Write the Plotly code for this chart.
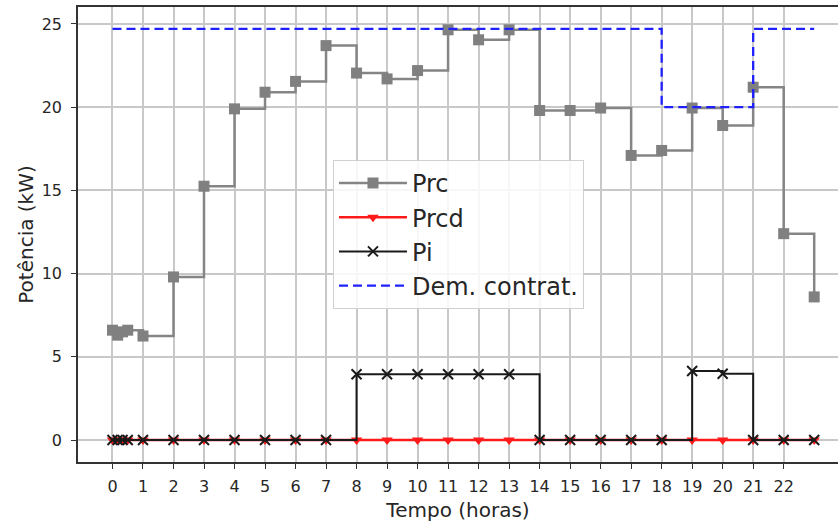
import plotly.graph_objects as go

# Data
hours = [0, 0.17, 0.33, 0.5, 1, 2, 3, 4, 5, 6, 7, 8, 9, 10, 11, 12, 13, 14, 15, 16, 17, 18, 19, 20, 21, 22, 23]
prc = [6.6, 6.3, 6.5, 6.6, 6.25, 9.8, 15.25, 19.9, 20.9, 21.55, 23.7, 22.05, 21.7, 22.2, 24.65, 24.05, 24.65,
       19.8, 19.8, 19.95, 17.1, 17.4, 19.95, 18.9, 21.2, 12.4, 8.6]
prcd = [0] * len(hours)
pi = [0, 0, 0, 0, 0, 0, 0, 0, 0, 0, 0, 3.95, 3.95, 3.95, 3.95, 3.95, 3.95,
      0, 0, 0, 0, 0, 4.15, 3.98, 0, 0, 0]
dem_high = 24.7
dem_low = 20.0
dem = [dem_high if h < 18 or h >= 21 else dem_low for h in hours]
x_ticks = list(range(0, 23))
y_ticks = [0, 5, 10, 15, 20, 25]

FONT = "DejaVu Sans"
TXT = "#262626"

fig = go.Figure()
fig.add_trace(go.Scatter(
    x=hours, y=prc, name="Prc", mode="lines+markers", line_shape="hv", legendgroup="a",
    line=dict(color="#858585", width=2.5),
    marker=dict(symbol="square", size=11, color="#808080")))
fig.add_trace(go.Scatter(
    x=hours, y=prcd, name="Prcd", mode="lines+markers", line_shape="hv", legendgroup="b",
    line=dict(color="#ff1a1a", width=2.5),
    marker=dict(symbol="triangle-down", size=10, color="#ff1a1a")))
fig.add_trace(go.Scatter(
    x=hours, y=pi, name="Pi", mode="lines+markers", line_shape="hv", legendgroup="c",
    line=dict(color="#1a1a1a", width=2),
    marker=dict(symbol="x-thin", size=10, color="#1a1a1a", line=dict(width=2, color="#1a1a1a"))))
fig.add_trace(go.Scatter(
    x=hours, y=dem, name="Dem. contrat.", mode="lines", line_shape="hv", legendgroup="d",
    line=dict(color="#2020ff", width=2.3, dash="9px,5px")))

fig.update_layout(
    width=838, height=525,
    margin=dict(l=78, r=0, t=7, b=63),
    paper_bgcolor="white", plot_bgcolor="white",
    font=dict(family=FONT, color=TXT, size=16),
    legend=dict(
        x=0.3355, y=0.664, xanchor="left", yanchor="top",
        bgcolor="rgba(255,255,255,0.85)", bordercolor="#d0d0d0", borderwidth=1,
        font=dict(size=24, family=FONT, color=TXT),
        tracegroupgap=0, itemwidth=68,
    ),
    showlegend=True,
)
fig.update_xaxes(
    range=[-1.13, 23.78], tickmode="array", tickvals=x_ticks, ticktext=[str(t) for t in x_ticks],
    showgrid=True, gridcolor="#c8c8c8", gridwidth=1.5, zeroline=False,
    showline=True, linecolor="#333333", linewidth=1.5, mirror=True,
    ticks="outside", ticklen=5, tickwidth=1.3, tickcolor="#333333",
    tickfont=dict(size=16, family=FONT, color=TXT), ticklabelstandoff=4,
    title=dict(text="Tempo (horas)", font=dict(size=20, family=FONT, color=TXT), standoff=8),
)
fig.update_yaxes(
    range=[-1.32, 26.02], tickmode="array", tickvals=y_ticks, ticktext=[str(t) for t in y_ticks],
    showgrid=True, gridcolor="#c8c8c8", gridwidth=1.5, zeroline=False,
    showline=True, linecolor="#333333", linewidth=1.5, mirror=False,
    ticks="outside", ticklen=5, tickwidth=1.3, tickcolor="#333333",
    tickfont=dict(size=16, family=FONT, color=TXT), ticklabelstandoff=6,
    title=dict(text="Potência (kW)", font=dict(size=20, family=FONT, color=TXT), standoff=3),
)

fig.write_html("out.html")
